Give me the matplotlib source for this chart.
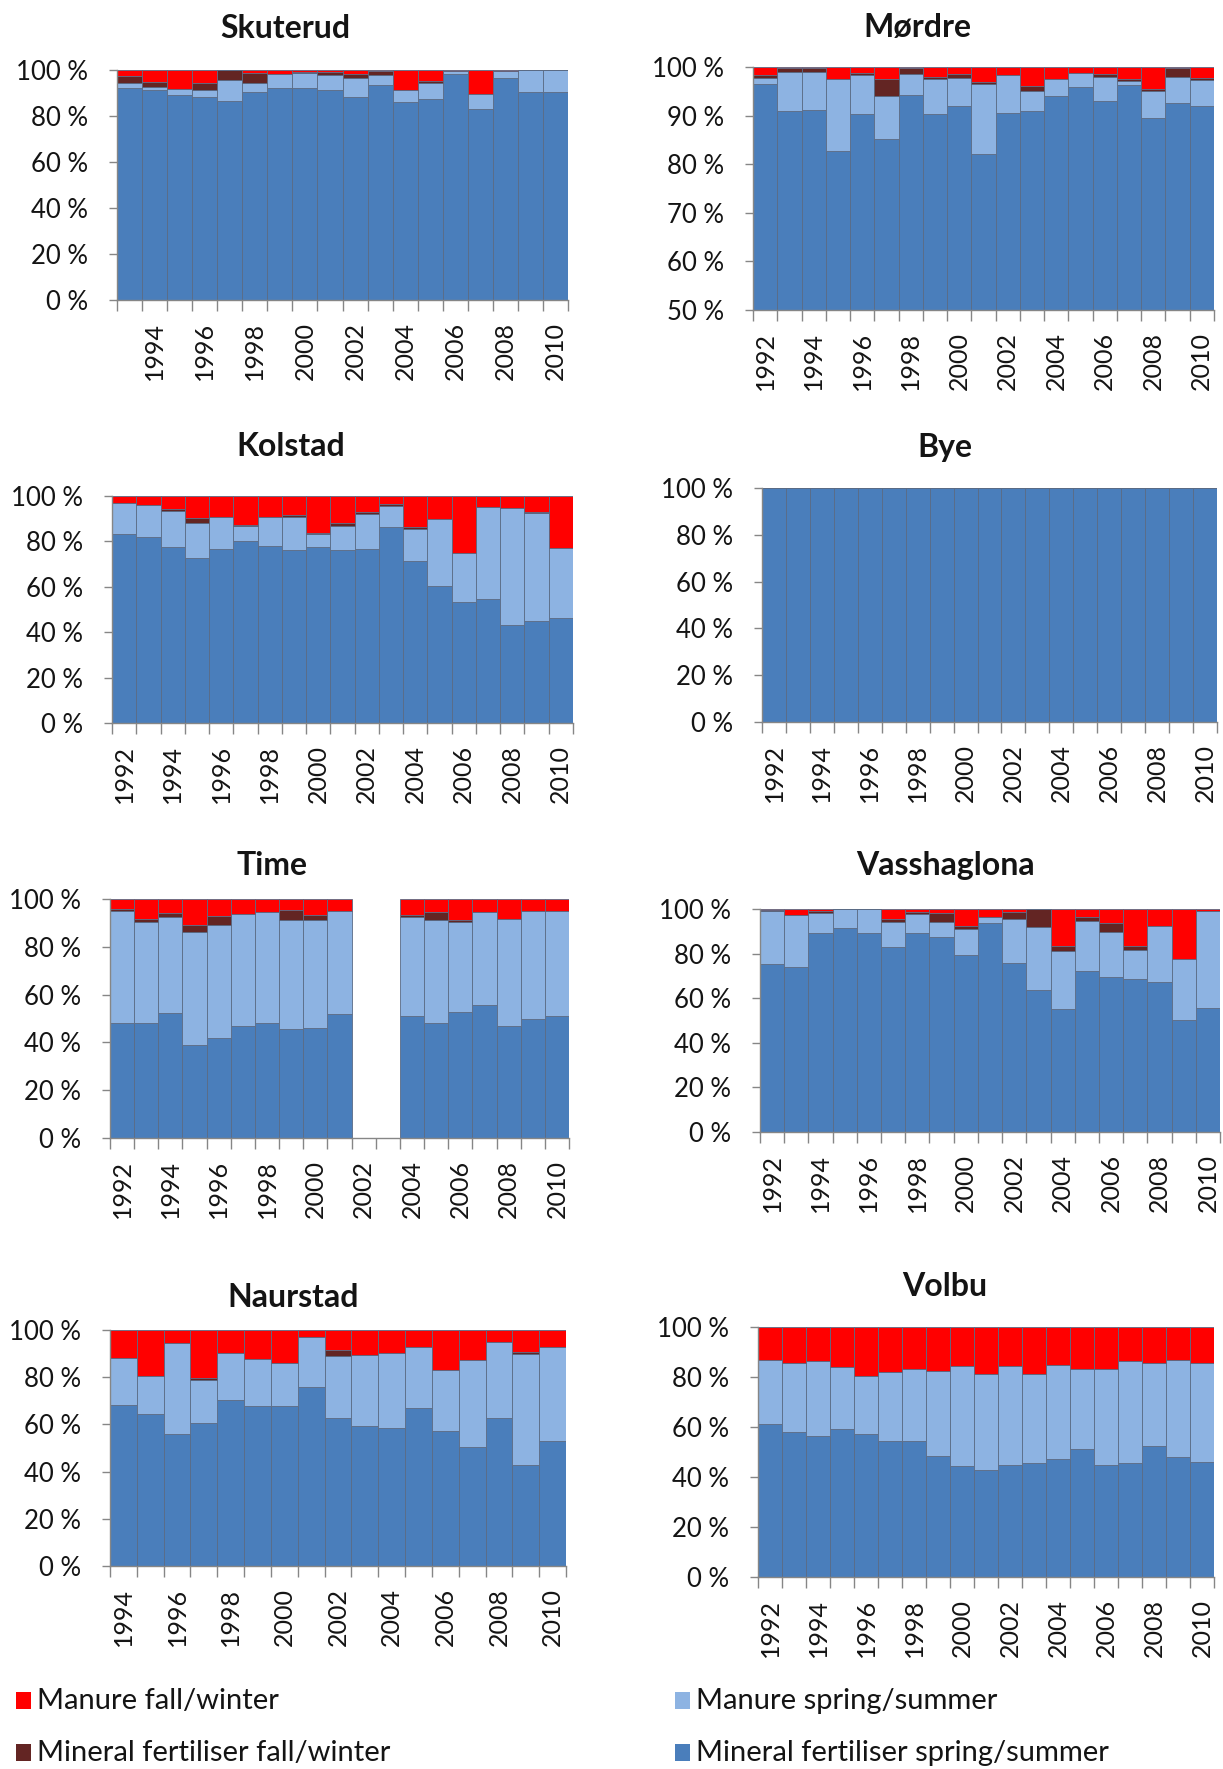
"""Share of fertiliser/manure application by season, eight catchments."""
import matplotlib.pyplot as plt
import numpy as np
from matplotlib.patches import Rectangle

plt.rcParams["font.family"] = ["Lato", "DejaVu Sans"]

W, H = 1223, 1769
DPI = 100

COLOR_MIN_SS = "#4a7ebb"
COLOR_MAN_SS = "#8db3e2"
COLOR_MIN_FW = "#632523"
COLOR_MAN_FW = "#ff0000"
EDGE = "#5a6b85"
TXT = "#141414"

YEARS_92 = list(range(1992, 2011))
YEARS_93 = list(range(1993, 2011))
YEARS_94 = list(range(1994, 2011))

# --- Skuterud (1993-2010) ---
SKU_MIN_SS = [92.0, 91.3, 89.1, 88.4, 86.5, 90.6, 92.0, 92.0, 91.3, 88.4, 93.5, 86.2, 87.2, 98.3, 82.9, 96.7, 90.3, 90.3]
SKU_MAN_SS = [2.5, 1.5, 2.5, 2.9, 9.2, 3.9, 6.3, 6.5, 6.5, 8.0, 4.3, 5.1, 7.0, 1.4, 6.5, 3.0, 9.7, 9.7]
SKU_MIN_FW = [2.9, 2.1, 0.0, 2.9, 4.3, 4.0, 0.0, 0.5, 1.5, 1.9, 1.9, 0.0, 1.0, 0.0, 0.0, 0.0, 0.0, 0.0]
SKU_MAN_FW = [2.6, 5.1, 8.4, 5.8, 0.0, 1.5, 1.7, 1.0, 0.7, 1.7, 0.3, 8.7, 4.8, 0.3, 10.6, 0.3, 0.0, 0.0]

# --- Mørdre (1992-2010) ---
MOR_MIN_SS = [96.6, 90.9, 91.2, 82.7, 90.4, 85.1, 94.2, 90.4, 91.9, 82.1, 90.6, 91.0, 94.0, 95.9, 93.0, 96.2, 89.6, 92.6, 91.9]
MOR_MAN_SS = [1.1, 8.1, 7.8, 14.9, 7.9, 8.9, 4.4, 7.2, 5.8, 14.3, 7.7, 4.1, 3.6, 2.9, 4.9, 0.9, 5.5, 5.3, 5.5]
MOR_MIN_FW = [0.6, 0.7, 0.7, 0.0, 0.5, 3.6, 1.1, 0.3, 0.8, 0.5, 0.0, 0.9, 0.0, 0.0, 0.6, 0.5, 0.4, 1.8, 0.4]
MOR_MAN_FW = [1.7, 0.3, 0.3, 2.4, 1.2, 2.4, 0.3, 2.1, 1.5, 3.1, 1.7, 4.0, 2.4, 1.2, 1.5, 2.4, 4.5, 0.3, 2.2]

# --- Kolstad (1992-2010) ---
KOL_MIN_SS = [83.2, 81.8, 77.4, 72.5, 76.6, 80.3, 78.1, 76.2, 77.6, 76.2, 76.6, 86.5, 71.5, 60.3, 53.4, 54.6, 43.1, 45.0, 46.3]
KOL_MAN_SS = [13.6, 14.2, 16.1, 15.4, 14.3, 6.5, 12.8, 14.4, 5.6, 10.7, 15.3, 9.1, 13.9, 29.4, 21.6, 40.4, 51.5, 47.4, 30.9]
KOL_MIN_FW = [0.0, 0.0, 0.6, 2.2, 0.0, 0.4, 0.0, 1.0, 0.6, 1.0, 0.9, 0.9, 1.1, 0.0, 0.0, 0.0, 0.0, 0.4, 0.0]
KOL_MAN_FW = [3.2, 4.0, 5.9, 9.9, 9.1, 12.8, 9.1, 8.4, 16.2, 12.1, 7.2, 3.5, 13.5, 10.3, 25.0, 5.0, 5.4, 7.2, 22.8]

# --- Bye (1992-2010) ---
BYE_MIN_SS = [100.0] * 19
BYE_MAN_SS = [0.0] * 19
BYE_MIN_FW = [0.0] * 19
BYE_MAN_FW = [0.0] * 19

# --- Time (1992-2010, no data 2002-2003) ---
TIM_MIN_SS = [48.3, 48.3, 52.4, 38.9, 41.7, 46.9, 48.3, 45.6, 46.2, 51.7, 0.0, 0.0, 51.2, 48.3, 52.9, 55.7, 46.9, 49.7, 51.0]
TIM_MAN_SS = [46.5, 42.0, 40.0, 47.5, 47.3, 46.9, 46.1, 45.7, 45.1, 43.4, 0.0, 0.0, 41.2, 43.0, 37.4, 38.7, 44.8, 45.4, 44.1]
TIM_MIN_FW = [1.0, 1.4, 1.7, 2.8, 4.0, 0.0, 0.0, 3.9, 2.1, 0.0, 0.0, 0.0, 1.0, 3.1, 1.0, 0.0, 0.0, 0.0, 0.0]
TIM_MAN_FW = [4.2, 8.3, 5.9, 10.8, 7.0, 6.2, 5.6, 4.8, 6.6, 4.9, 0.0, 0.0, 6.6, 5.6, 8.7, 5.6, 8.3, 4.9, 4.9]

# --- Vasshaglona (1992-2010) ---
VAS_MIN_SS = [75.2, 74.2, 89.1, 91.6, 89.1, 82.8, 89.1, 87.3, 79.4, 93.9, 75.7, 63.7, 55.1, 72.2, 69.4, 68.7, 67.2, 50.0, 55.5]
VAS_MAN_SS = [23.9, 23.1, 9.3, 8.4, 10.9, 11.2, 8.7, 6.7, 11.6, 2.7, 19.7, 28.1, 26.1, 22.6, 20.2, 12.9, 25.3, 27.6, 43.6]
VAS_MIN_FW = [0.5, 0.0, 0.7, 0.0, 0.0, 1.5, 1.0, 4.1, 1.5, 0.0, 3.4, 8.2, 2.2, 1.8, 4.0, 1.8, 0.0, 0.0, 0.0]
VAS_MAN_FW = [0.4, 2.7, 0.9, 0.0, 0.0, 4.5, 1.2, 1.9, 7.5, 3.4, 1.2, 0.0, 16.6, 3.4, 6.4, 16.6, 7.5, 22.4, 0.9]

# --- Naurstad (1994-2010) ---
NAU_MIN_SS = [68.2, 64.6, 55.9, 60.7, 70.3, 67.8, 67.8, 75.7, 62.8, 59.4, 58.6, 66.8, 57.3, 50.5, 62.8, 43.0, 53.0]
NAU_MAN_SS = [20.1, 16.0, 38.4, 18.1, 19.8, 19.8, 18.3, 21.2, 26.2, 30.0, 31.5, 26.1, 25.7, 36.8, 32.2, 46.7, 39.9]
NAU_MIN_FW = [0.0, 0.0, 0.0, 1.0, 0.0, 0.0, 0.0, 0.0, 2.5, 0.0, 0.0, 0.0, 0.0, 0.0, 0.0, 1.1, 0.0]
NAU_MAN_FW = [11.7, 19.4, 5.7, 20.2, 9.9, 12.4, 13.9, 3.1, 8.5, 10.6, 9.9, 7.1, 17.0, 12.7, 5.0, 9.2, 7.1]

# --- Volbu (1992-2010) ---
VOL_MIN_SS = [61.3, 58.0, 56.3, 59.3, 57.3, 54.3, 54.3, 48.5, 44.3, 42.9, 44.9, 45.6, 47.3, 51.2, 44.9, 45.6, 52.3, 48.0, 46.0]
VOL_MAN_SS = [25.6, 27.6, 30.0, 24.6, 23.2, 27.6, 28.9, 33.8, 40.0, 38.3, 39.4, 35.6, 37.6, 32.0, 38.3, 40.7, 33.3, 38.9, 39.6]
VOL_MIN_FW = [0.0] * 19
VOL_MAN_FW = [13.1, 14.4, 13.7, 16.1, 19.5, 18.1, 16.8, 17.7, 15.7, 18.8, 15.7, 18.8, 15.1, 16.8, 16.8, 13.7, 14.4, 13.1, 14.4]

LEGEND_LABELS = [
    "Manure fall/winter",
    "Manure spring/summer",
    "Mineral fertiliser fall/winter",
    "Mineral fertiliser spring/summer",
]


def px_axes(fig, x0, y0, x1, y1):
    return fig.add_axes([x0 / W, 1 - y1 / H, (x1 - x0) / W, (y1 - y0) / H])


def draw_panel(ax, years, min_ss, man_ss, min_fw, man_fw, ymin=0, ystep=20):
    x = np.arange(len(years))
    bottom = np.zeros(len(years))
    for vals, color in [(min_ss, COLOR_MIN_SS), (man_ss, COLOR_MAN_SS),
                        (min_fw, COLOR_MIN_FW), (man_fw, COLOR_MAN_FW)]:
        vals = np.asarray(vals, dtype=float)
        ax.bar(x, vals, width=1.0, bottom=bottom, color=color,
               edgecolor=EDGE, linewidth=0.6)
        bottom = bottom + vals

    ax.set_xlim(-0.5, len(years) - 0.5)
    ax.set_ylim(ymin, 100)
    yt = np.arange(ymin, 101, ystep)
    ax.set_yticks(yt)
    ax.set_yticklabels([f"{v} %" for v in yt], fontsize=18.5, color=TXT)
    ax.tick_params(axis="y", length=6, width=1, color="#868686", pad=15, direction="out")

    lab_idx = [i for i, y in enumerate(years) if y % 2 == 0]
    ax.set_xticks(lab_idx)
    ax.set_xticklabels([str(years[i]) for i in lab_idx], rotation=90,
                       fontsize=18, color=TXT)
    ax.tick_params(axis="x", which="major", length=0, pad=16)
    ax.set_xticks(np.arange(-0.5, len(years)), minor=True)
    ax.tick_params(axis="x", which="minor", length=8, width=1, color="#868686", direction="out")

    for side in ("top", "right"):
        ax.spines[side].set_visible(False)
    for side in ("left", "bottom"):
        ax.spines[side].set_color("#868686")
        ax.spines[side].set_linewidth(1)


fig = plt.figure(figsize=(W / DPI, H / DPI), dpi=DPI)

panels = [
    ("Skuterud", YEARS_93, SKU_MIN_SS, SKU_MAN_SS, SKU_MIN_FW, SKU_MAN_FW, 0, 20, (117, 70, 568, 300), (285, 28)),
    ("Mørdre", YEARS_92, MOR_MIN_SS, MOR_MAN_SS, MOR_MIN_FW, MOR_MAN_FW, 50, 10, (753, 67, 1214, 310), (917, 27)),
    ("Kolstad", YEARS_92, KOL_MIN_SS, KOL_MAN_SS, KOL_MIN_FW, KOL_MAN_FW, 0, 20, (112, 496, 573, 723), (291, 447)),
    ("Bye", YEARS_92, BYE_MIN_SS, BYE_MAN_SS, BYE_MIN_FW, BYE_MAN_FW, 0, 20, (762, 488, 1217, 722), (945, 447)),
    ("Time", YEARS_92, TIM_MIN_SS, TIM_MAN_SS, TIM_MIN_FW, TIM_MAN_FW, 0, 20, (110, 899, 569, 1138), (272, 865)),
    ("Vasshaglona", YEARS_92, VAS_MIN_SS, VAS_MAN_SS, VAS_MIN_FW, VAS_MAN_FW, 0, 20, (760, 909, 1220, 1132), (945, 865)),
    ("Naurstad", YEARS_94, NAU_MIN_SS, NAU_MAN_SS, NAU_MIN_FW, NAU_MAN_FW, 0, 20, (110, 1330, 566, 1566), (293, 1297)),
    ("Volbu", YEARS_92, VOL_MIN_SS, VOL_MAN_SS, VOL_MIN_FW, VOL_MAN_FW, 0, 20, (758, 1327, 1214, 1577), (945, 1286)),
]

for name, years, a, b, c, d, ymin, ystep, box, tpos in panels:
    ax = px_axes(fig, *box)
    draw_panel(ax, years, a, b, c, d, ymin=ymin, ystep=ystep)
    fig.text(tpos[0] / W, 1 - tpos[1] / H, name, ha="center", va="center",
             fontsize=23, fontweight="bold", color=TXT)

# legend, two columns by two rows
legend_items = [
    (LEGEND_LABELS[0], COLOR_MAN_FW, 16, 1701),
    (LEGEND_LABELS[1], COLOR_MAN_SS, 675, 1701),
    (LEGEND_LABELS[2], COLOR_MIN_FW, 16, 1753),
    (LEGEND_LABELS[3], COLOR_MIN_SS, 675, 1753),
]
for label, color, lx, ly in legend_items:
    fig.patches.append(Rectangle((lx / W, 1 - (ly + 8) / H), 15 / W, 17 / H,
                                 transform=fig.transFigure, facecolor=color,
                                 edgecolor="none"))
    fig.text((lx + 21) / W, 1 - ly / H, label, ha="left", va="center",
             fontsize=21, color=TXT)

fig.savefig("out.png", dpi=DPI)
